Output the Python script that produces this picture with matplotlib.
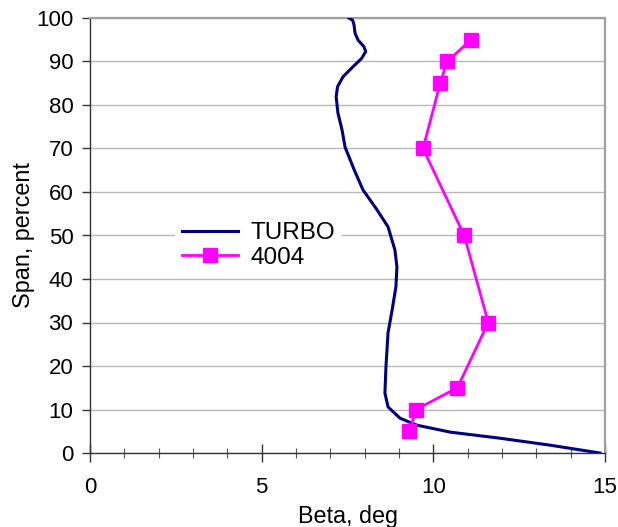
import matplotlib
matplotlib.use("Agg")
import matplotlib.pyplot as plt
from matplotlib.ticker import MultipleLocator

plt.rcParams['font.family'] = ['Liberation Sans', 'DejaVu Sans']

# TURBO curve (Beta in deg vs span percent)
turbo_span = [0, 1.8, 3.4, 4.8, 6.4, 8, 10.6, 13.8, 19.8, 27.6, 32.9, 38.2, 42.8,
              46.7, 52, 55.9, 60.5, 65, 70.3, 74.3, 78.2, 81.9, 84.2, 86.5, 88.8,
              90.7, 92.3, 93.4, 94.9, 96.5, 98.4, 99.5, 100]
turbo_beta = [14.85, 13.4, 11.94, 10.49, 9.52, 9.03, 8.68, 8.59, 8.62, 8.68, 8.8,
              8.91, 8.94, 8.88, 8.68, 8.36, 7.95, 7.70, 7.43, 7.34, 7.22, 7.17,
              7.21, 7.37, 7.66, 7.91, 8.03, 7.98, 7.81, 7.72, 7.69, 7.65, 7.54]

# 4004 measured points
s4004_span = [5, 10, 15, 30, 50, 70, 85, 90, 95]
s4004_beta = [9.3, 9.5, 10.7, 11.6, 10.9, 9.7, 10.2, 10.4, 11.1]

x_ticks = [0, 5, 10, 15]
y_ticks = [0, 10, 20, 30, 40, 50, 60, 70, 80, 90, 100]

fig = plt.figure(figsize=(6.18, 5.27), dpi=100)
ax = fig.add_axes([90/618, 1-453/527, 515/618, 435/527])

ax.plot(turbo_beta, turbo_span, color='#000080', lw=2.2, label='TURBO', zorder=3)
ax.plot(s4004_beta, s4004_span, color='#FF00FF', lw=2.0, marker='s',
        markersize=10.5, label='4004', zorder=4)

ax.set_xlim(0, 15)
ax.set_ylim(0, 100)
ax.set_xticks(x_ticks)
ax.set_yticks(y_ticks)
ax.xaxis.set_minor_locator(MultipleLocator(1))
ax.yaxis.grid(True, color='#b8b8b8', lw=1.0)
ax.set_axisbelow(True)

for s in ['left', 'bottom']:
    ax.spines[s].set_color('#333333')
    ax.spines[s].set_linewidth(1.0)
for s in ['top', 'right']:
    ax.spines[s].set_color('#a0a0a0')
    ax.spines[s].set_linewidth(1.6)

ax.tick_params(axis='x', which='major', direction='inout', length=13, width=1,
               color='#333333', labelsize=16, pad=11)
ax.tick_params(axis='x', which='minor', direction='inout', length=7, width=0.8,
               color='#555555')
ax.tick_params(axis='y', which='major', direction='out', length=6, width=1,
               color='#333333', labelsize=16, pad=6)

ax.set_xlabel('Beta, deg', fontsize=16.8, labelpad=5)
ax.set_ylabel('Span, percent', fontsize=16.8, labelpad=1)

leg = ax.legend(loc='center left', bbox_to_anchor=(0.141, 0.477), fontsize=17.5,
                frameon=True, handlelength=2.3, handletextpad=0.5,
                labelspacing=0.1, borderpad=0.3)
leg.get_frame().set_edgecolor('none')
leg.get_frame().set_facecolor('white')
leg.get_frame().set_alpha(1)

fig.savefig('out.png', dpi=100)
